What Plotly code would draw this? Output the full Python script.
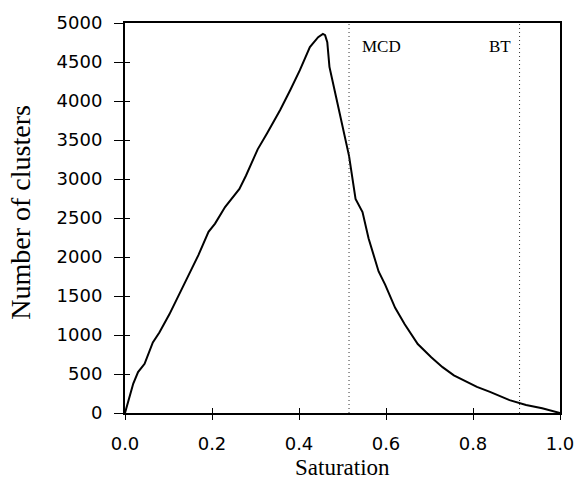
import plotly.graph_objects as go

saturation = [0.0, 0.011, 0.019, 0.030, 0.045, 0.064, 0.079, 0.102, 0.124, 0.147,
              0.169, 0.192, 0.207, 0.230, 0.263, 0.278, 0.305, 0.327, 0.357, 0.380,
              0.402, 0.425, 0.444, 0.455, 0.460, 0.465, 0.470, 0.485, 0.500, 0.515,
              0.530, 0.542, 0.546, 0.560, 0.572, 0.583, 0.598, 0.621, 0.643, 0.673,
              0.704, 0.730, 0.756, 0.779, 0.809, 0.839, 0.884, 0.922, 0.959, 1.0]
clusters = [0, 203, 377, 524, 630, 905, 1032, 1265, 1519, 1773,
            2027, 2322, 2428, 2640, 2872, 3042, 3380, 3591, 3887, 4141,
            4395, 4691, 4818, 4860, 4845, 4755, 4438, 4057, 3676, 3296,
            2745, 2618, 2576, 2237, 2027, 1815, 1646, 1349, 1138, 884,
            714, 588, 482, 419, 334, 270, 165, 102, 60, 0]

ref_lines = [0.515, 0.907]
ref_labels = ["MCD", "BT"]
ref_label_x = [0.5395, 0.833]

x_ticks = [0.0, 0.2, 0.4, 0.6, 0.8, 1.0]
x_ticktext = ["0.0", "0.2", "0.4", "0.6", "0.8", "1.0"]
y_ticks = [0, 500, 1000, 1500, 2000, 2500, 3000, 3500, 4000, 4500, 5000]

fig = go.Figure()
fig.add_trace(go.Scatter(x=saturation, y=clusters, mode="lines",
                         line=dict(color="black", width=2), showlegend=False))
# invisible trace for overlay axes (inner tick marks)
fig.add_trace(go.Scatter(x=[0], y=[0], xaxis="x2", yaxis="y2", mode="markers",
                         marker=dict(opacity=0), showlegend=False, hoverinfo="skip"))

for xv, lab, lx in zip(ref_lines, ref_labels, ref_label_x):
    fig.add_shape(type="line", x0=xv, x1=xv, y0=0, y1=5000, xref="x", yref="y",
                  line=dict(color="#333333", width=1, dash="1px,3px"))
    fig.add_annotation(x=lx, y=4695, xref="x", yref="y", text=lab, showarrow=False,
                       xanchor="left", yanchor="middle",
                       font=dict(family="Liberation Serif", size=17, color="black"))

tickfont = dict(family="DejaVu Sans", size=18, color="black")
fig.update_layout(
    width=586, height=485,
    margin=dict(l=125, r=18, t=19, b=72),
    paper_bgcolor="white", plot_bgcolor="white",
    xaxis=dict(range=[0, 1], tickvals=x_ticks, ticktext=x_ticktext, ticks="outside",
               ticklen=5, tickwidth=1, tickcolor="black", showgrid=False, zeroline=False,
               showline=True, linecolor="black", linewidth=2, mirror=True,
               tickfont=tickfont, ticklabelstandoff=8),
    yaxis=dict(range=[0, 5000], tickvals=y_ticks, ticks="outside", ticklen=9,
               tickwidth=1, tickcolor="black", showgrid=False, zeroline=False,
               showline=True, linecolor="black", linewidth=2, mirror=True,
               tickfont=tickfont, ticklabelstandoff=8),
    xaxis2=dict(range=[0, 1], overlaying="x", tickvals=x_ticks, ticks="inside", ticklen=5,
                tickcolor="black", showticklabels=False, showgrid=False, zeroline=False,
                showline=False),
    yaxis2=dict(range=[0, 5000], overlaying="y", tickvals=y_ticks, ticks="inside", ticklen=5,
                tickcolor="black", showticklabels=False, showgrid=False, zeroline=False,
                showline=False),
    annotations=list(fig.layout.annotations) + [
        dict(text="Saturation", x=0.5, y=-0.14, xref="paper", yref="paper",
             showarrow=False, xanchor="center", yanchor="middle",
             font=dict(family="Liberation Serif", size=23, color="black")),
        dict(text="Number of clusters", x=-0.24, y=0.515, xref="paper", yref="paper",
             showarrow=False, textangle=-90, xanchor="center", yanchor="middle",
             font=dict(family="Liberation Serif", size=28, color="black")),
    ],
)
fig.write_html("out.html")
